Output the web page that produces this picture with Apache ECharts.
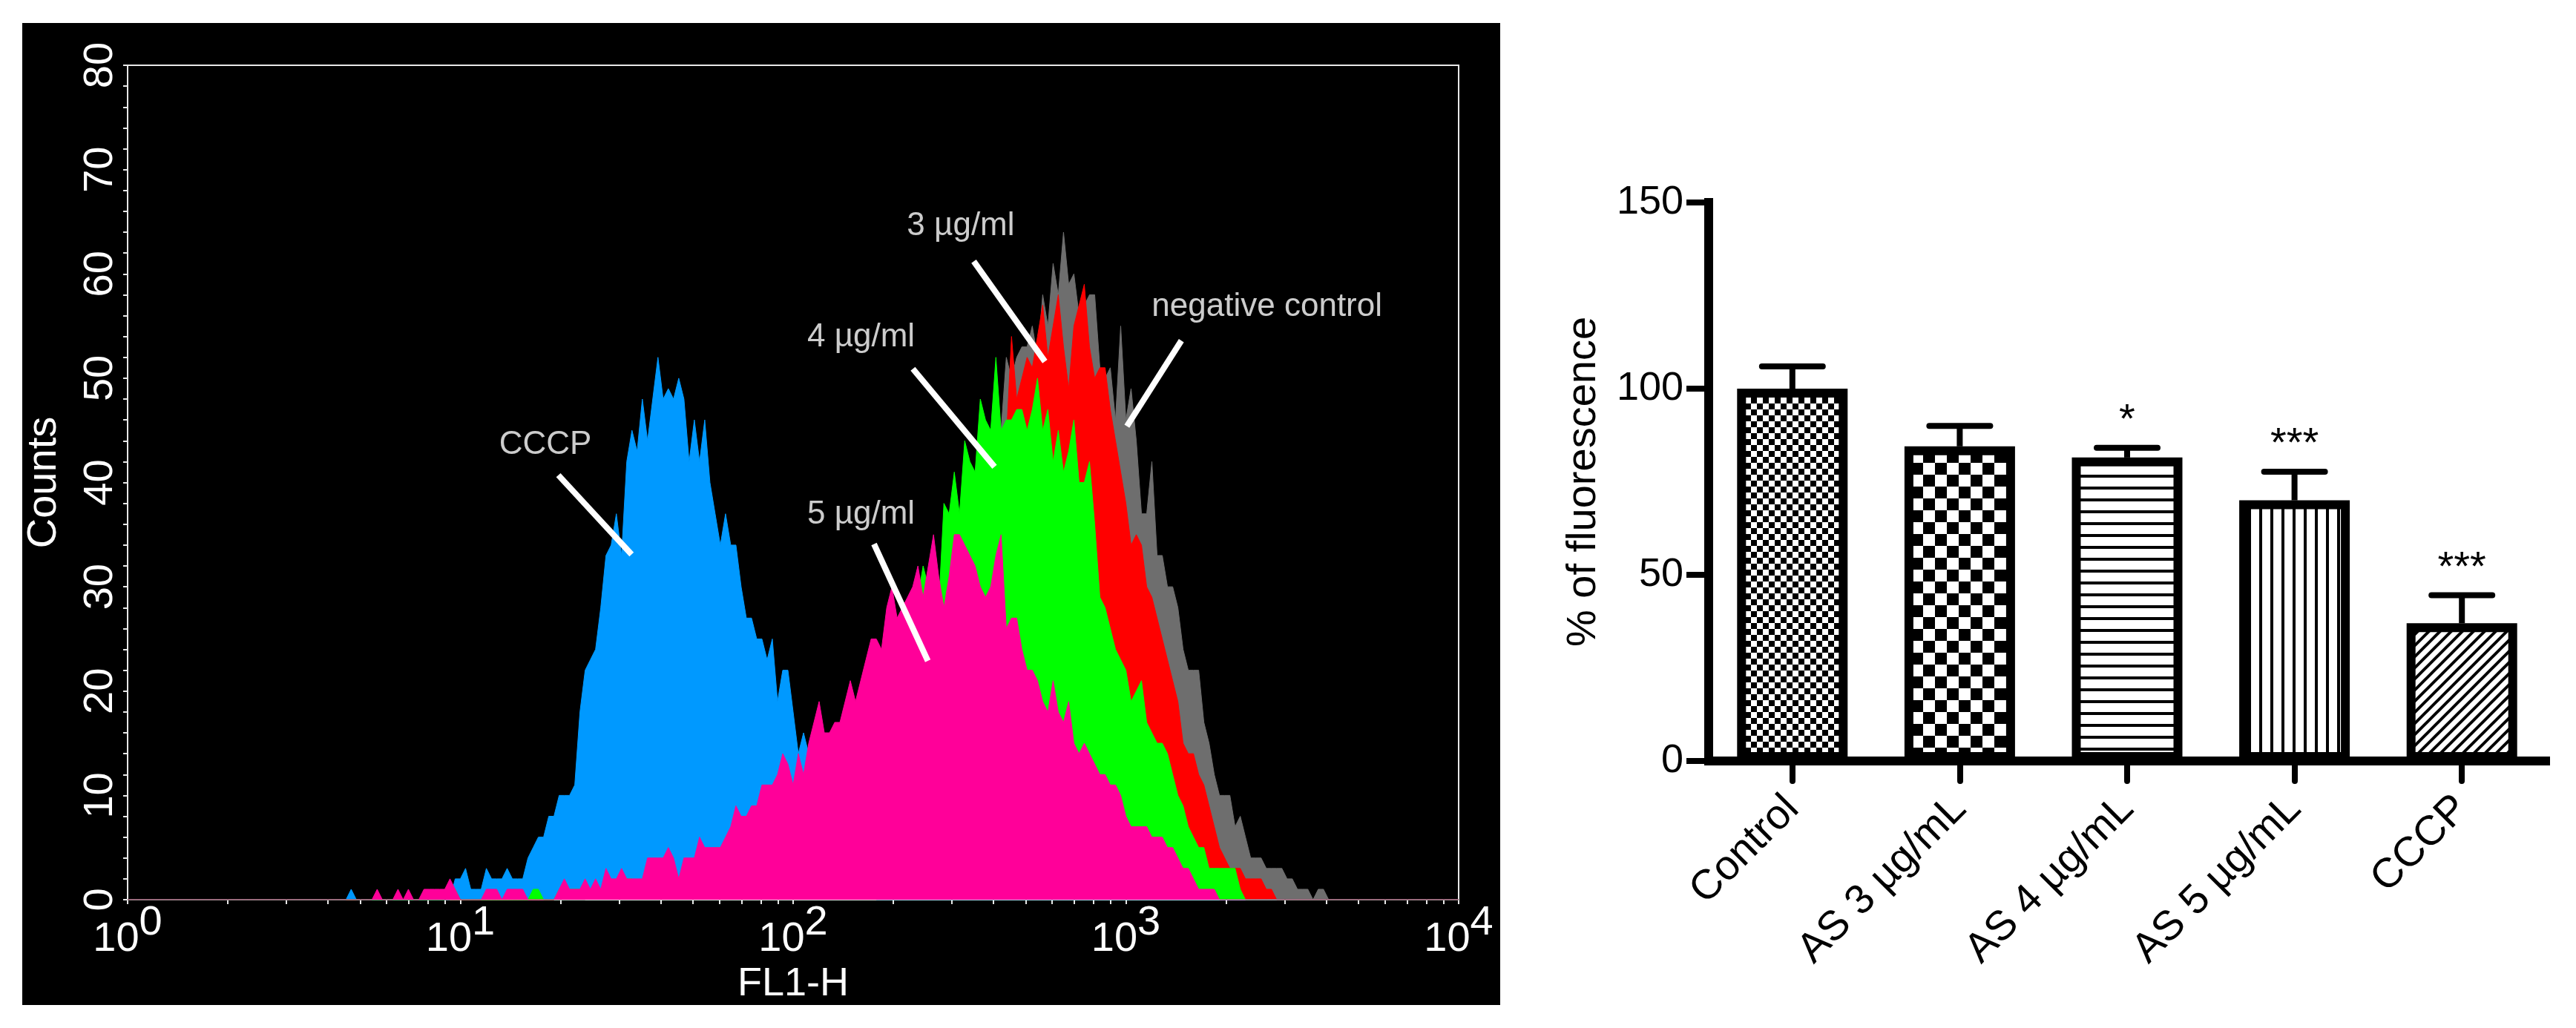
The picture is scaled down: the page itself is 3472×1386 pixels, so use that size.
<!DOCTYPE html>
<html>
<head>
<meta charset="utf-8">
<script src="https://cdn.jsdelivr.net/npm/echarts@6/dist/echarts.min.js"></script>
<style>
  html, body { margin: 0; padding: 0; background: #fff; }
  #chart { width: 3472px; height: 1386px; }
</style>
</head>
<body>
<div id="chart"></div>
<script>
// left panel: FL1-H histograms, 64 channels per decade from 10^0 to 10^4
const channelCount = 257
const channels = Array.from({ length: channelCount }, (_, i) => i)

// counts per channel; each list starts at the channel in its *From constant
const cccpFrom = 43
const cccpCounts = [
  1, 0, 0, 0, 0, 0, 0, 0, 0, 0,
  0, 0, 0, 0, 0, 0, 0, 0, 0, 0,
  2, 2, 3, 1, 1, 1, 3, 2, 2, 2,
  3, 2, 2, 2, 4, 5, 6, 6, 8, 8,
  10, 10, 10, 11, 18, 22, 23, 24, 28, 33,
  34, 37, 33, 42, 45, 43, 48, 44, 48, 52,
  48, 49, 48, 50, 48, 42, 46, 42, 46, 40,
  37, 34, 37, 34, 34, 30, 27, 27, 25, 25,
  23, 25, 19, 22, 22, 18, 14, 16, 14, 15,
  13, 12, 10, 8, 7, 5, 4, 3, 2, 1,
  1, 0
]

const as5From = 46
const as5Counts = [
  0, 0, 1, 0, 0, 0, 1, 0, 1, 0,
  0, 1, 1, 1, 1, 1, 2, 1, 0, 0,
  0, 0, 0, 1, 1, 1, 0, 1, 1, 1,
  1, 0, 0, 0, 0, 0, 0, 1, 2, 1,
  1, 1, 2, 1, 2, 1, 3, 2, 2, 3,
  2, 2, 2, 2, 4, 4, 4, 4, 5, 4,
  2, 4, 4, 4, 6, 5, 5, 5, 5, 6,
  7, 9, 8, 8, 9, 9, 11, 11, 11, 12,
  14, 13, 11, 14, 12, 15, 17, 19, 16, 16,
  17, 17, 19, 21, 19, 21, 23, 25, 25, 24,
  28, 30, 27, 28, 29, 30, 32, 29, 32, 35,
  31, 28, 31, 35, 35, 34, 33, 32, 30, 29,
  30, 33, 35, 26, 27, 27, 24, 22, 22, 21,
  19, 18, 21, 18, 17, 19, 15, 14, 15, 14,
  13, 12, 12, 11, 11, 10, 8, 7, 7, 7,
  7, 6, 6, 6, 5, 5, 4, 3, 3, 2,
  1, 1, 1, 1, 0
]

const as4From = 60
const as4Counts = [
  0, 0, 1, 1, 0, 0, 0, 0, 0, 0,
  0, 0, 0, 0, 0, 0, 0, 0, 1, 1,
  0, 0, 0, 1, 1, 1, 1, 1, 1, 1,
  1, 1, 2, 1, 2, 2, 2, 2, 1, 2,
  3, 3, 3, 3, 3, 3, 2, 3, 3, 4,
  4, 4, 4, 5, 5, 5, 6, 6, 7, 7,
  8, 8, 9, 9, 10, 10, 11, 11, 10, 12,
  11, 13, 14, 15, 15, 16, 16, 16, 18, 18,
  18, 20, 21, 22, 23, 23, 25, 26, 26, 27,
  28, 28, 29, 32, 30, 31, 28, 38, 37, 41,
  37, 44, 42, 41, 48, 46, 45, 52, 45, 46,
  46, 47, 47, 45, 47, 50, 45, 47, 42, 45,
  41, 43, 46, 40, 40, 42, 36, 29, 28, 26,
  24, 23, 22, 19, 20, 21, 17, 16, 15, 15,
  14, 12, 10, 9, 7, 6, 5, 5, 3, 3,
  3, 3, 3, 3, 1, 0
]

const as3From = 80
const as3Counts = [
  0, 0, 0, 1, 0, 1, 0, 1, 1, 1,
  1, 1, 1, 1, 1, 2, 1, 2, 2, 2,
  2, 2, 3, 2, 3, 3, 2, 3, 3, 4,
  3, 4, 4, 4, 5, 5, 5, 5, 6, 6,
  7, 7, 7, 8, 8, 9, 9, 10, 10, 11,
  11, 12, 13, 13, 14, 15, 15, 16, 17, 17,
  18, 19, 20, 21, 21, 22, 23, 24, 25, 26,
  26, 27, 28, 29, 30, 30, 29, 32, 33, 34,
  35, 36, 37, 38, 39, 40, 41, 42, 43, 44,
  54, 48, 50, 52, 51, 54, 57, 52, 55, 58,
  53, 49, 55, 57, 59, 53, 50, 51, 51, 47,
  44, 41, 38, 34, 35, 34, 30, 29, 27, 25,
  23, 21, 19, 15, 14, 14, 12, 11, 9, 7,
  5, 4, 3, 3, 3, 2, 2, 2, 2, 1,
  1, 0
]

const negFrom = 88
const negCounts = [
  0, 1, 0, 1, 1, 1, 1, 1, 1, 1,
  2, 1, 2, 2, 2, 2, 2, 3, 2, 3,
  3, 3, 3, 3, 4, 4, 4, 4, 5, 5,
  5, 6, 6, 6, 7, 7, 8, 8, 8, 9,
  9, 10, 10, 11, 11, 12, 12, 13, 14, 14,
  15, 16, 16, 17, 18, 19, 19, 20, 21, 22,
  23, 23, 24, 25, 26, 27, 28, 28, 29, 30,
  31, 32, 33, 34, 35, 36, 37, 38, 40, 41,
  45, 52, 50, 52, 53, 53, 55, 52, 58, 55,
  61, 58, 64, 59, 60, 56, 57, 58, 58, 51,
  50, 51, 46, 55, 46, 49, 44, 37, 37, 42,
  33, 33, 30, 30, 28, 24, 22, 22, 22, 17,
  15, 12, 10, 10, 10, 7, 8, 6, 4, 4,
  4, 3, 3, 3, 3, 2, 2, 1, 1, 1,
  0, 1, 1, 0
]

// annotations on the histogram (FL1-H value, counts)
const noteTexts = ['CCCP', '3 µg/ml', '4 µg/ml', '5 µg/ml', 'negative control']
const noteFl = [18, 319, 160, 160, 2655]
const noteCounts = [43.6, 64.6, 53.9, 36.9, 56.8]
const pointerStart = [[19.7, 40.7], [349, 61.2], [229, 50.9], [175, 34.1], [1468, 53.6]]
const pointerEnd = [[32.7, 33.1], [571, 51.6], [403, 41.5], [254, 22.9], [1007, 45.4]]

// right panel: bar chart
const groups = ['Control', 'AS 3 µg/mL', 'AS 4 µg/mL', 'AS 5 µg/mL', 'CCCP']
const fluorMean = [100, 84.5, 81.5, 70, 37]
const fluorSD = [6, 5.5, 2.6, 7.7, 7.5]
const signif = ['', '', '*', '***', '***']

const font = 'Liberation Sans, Arial, sans-serif'
const frameColor = '#e8e8e8'

function fullTrace(from, counts) {
  const out = new Array(channelCount).fill(0)
  counts.forEach((c, i) => { out[from + i] = c })
  return out
}

// minor tick places on the decade scale (log10 of 1..9 per decade)
const decadeTicks = []
for (let d = 0; d < 4; d++) {
  for (let k = 1; k <= 9; k++) decadeTicks.push(d + Math.log10(k))
}
decadeTicks.push(4)

function pattern(size, draw) {
  const c = document.createElement('canvas')
  c.width = c.height = size
  const ctx = c.getContext('2d')
  ctx.fillStyle = '#fff'
  ctx.fillRect(0, 0, size, size)
  ctx.fillStyle = '#000'
  ctx.strokeStyle = '#000'
  draw(ctx, size)
  return { image: c, repeat: 'repeat' }
}

const barFills = [
  pattern(16, (ctx) => { ctx.fillRect(0, 0, 8, 8); ctx.fillRect(8, 8, 8, 8) }),
  pattern(32, (ctx) => { ctx.fillRect(0, 0, 16, 16); ctx.fillRect(16, 16, 16, 16) }),
  pattern(16, (ctx) => { ctx.fillRect(0, 0, 16, 4) }),
  pattern(15, (ctx) => { ctx.fillRect(0, 0, 4, 15) }),
  pattern(15, (ctx, s) => {
    ctx.lineWidth = 4
    ctx.beginPath()
    ctx.moveTo(-2, 2); ctx.lineTo(2, -2)
    ctx.moveTo(0, s); ctx.lineTo(s, 0)
    ctx.moveTo(s - 2, s + 2); ctx.lineTo(s + 2, s - 2)
    ctx.stroke()
  })
]

// each trace gets its own z so its outline never lands on top of a later fill
function histSeries(name, from, counts, color, z) {
  return {
    name,
    type: 'line',
    xAxisIndex: 0,
    yAxisIndex: 0,
    z,
    data: fullTrace(from, counts),
    symbol: 'none',
    lineStyle: { color, width: 1 },
    areaStyle: { color, opacity: 1 },
    silent: true
  }
}

const chart = echarts.init(document.getElementById('chart'))

chart.setOption({
  backgroundColor: '#fff',
  animation: false,
  textStyle: { fontFamily: font },
  graphic: [{
    type: 'rect', z: -10,
    shape: { x: 30, y: 31, width: 1992, height: 1324 },
    style: { fill: '#000' }
  }],
  grid: [
    { left: 172, top: 88, width: 1794, height: 1125, show: true, borderColor: frameColor, borderWidth: 2, backgroundColor: 'transparent' },
    { left: 2303, top: 273, width: 1128, height: 753 }
  ],
  xAxis: [
    { type: 'category', gridIndex: 0, position: 'bottom', data: channels, boundaryGap: false, show: false },
    {
      type: 'log', gridIndex: 0, position: 'bottom', logBase: 10, min: 1, max: 10000, splitNumber: 4,
      name: 'FL1-H', nameLocation: 'middle', nameGap: 80,
      nameTextStyle: { color: '#fff', fontSize: 54, fontFamily: font },
      axisLine: { lineStyle: { color: frameColor, width: 2 } },
      axisTick: { length: 6, lineStyle: { color: frameColor, width: 2 } },
      splitLine: { show: false },
      axisLabel: {
        margin: 4,
        formatter: (v) => '{b|10}{e|' + Math.round(Math.log10(v)) + '}',
        rich: {
          b: { color: '#fff', fontSize: 56, fontFamily: font, padding: [22, 0, 0, 0] },
          e: { color: '#fff', fontSize: 56, fontFamily: font, padding: [0, 0, 22, 0] }
        }
      }
    },
    {
      type: 'value', gridIndex: 0, position: 'bottom', min: 0, max: 4,
      axisLine: { show: false }, axisLabel: { show: false }, splitLine: { show: false },
      axisTick: { show: true, customValues: decadeTicks, length: 6, lineStyle: { color: frameColor, width: 2 } }
    },
    {
      type: 'category', gridIndex: 1, position: 'bottom', data: groups,
      axisLine: { lineStyle: { color: '#000', width: 12, cap: 'square' } },
      axisTick: { show: true, alignWithLabel: true, length: 27, lineStyle: { color: '#000', width: 8, cap: 'round' } },
      axisLabel: { rotate: 45, color: '#000', fontSize: 56, margin: 56, fontFamily: font },
      splitLine: { show: false }
    }
  ],
  yAxis: [
    {
      type: 'value', gridIndex: 0, min: 0, max: 80, interval: 10,
      name: 'Counts', nameLocation: 'middle', nameGap: 84,
      nameTextStyle: { color: '#fff', fontSize: 56, fontFamily: font },
      axisLine: { show: true, lineStyle: { color: frameColor, width: 2 } },
      axisTick: { show: true, length: 6, lineStyle: { color: frameColor, width: 2 } },
      minorTick: { show: true, splitNumber: 5, length: 6, lineStyle: { color: frameColor, width: 2 } },
      axisLabel: { rotate: 90, color: '#fff', fontSize: 56, margin: 8, fontFamily: font },
      splitLine: { show: false }
    },
    {
      type: 'value', gridIndex: 1, min: 0, max: 150, interval: 50,
      name: '% of fluorescence', nameLocation: 'middle', nameGap: 140,
      nameTextStyle: { color: '#000', fontSize: 56, fontFamily: font },
      axisLine: { show: true, lineStyle: { color: '#000', width: 12, cap: 'square' } },
      axisTick: { show: true, length: 30, lineStyle: { color: '#000', width: 8 } },
      axisLabel: { color: '#000', fontSize: 54, margin: 34, fontFamily: font },
      splitLine: { show: false }
    }
  ],
  series: [
    histSeries('negative control', negFrom, negCounts, '#6e6e6e', 2),
    histSeries('3 µg/ml', as3From, as3Counts, '#ff0000', 3),
    histSeries('CCCP', cccpFrom, cccpCounts, '#0099ff', 4),
    histSeries('4 µg/ml', as4From, as4Counts, '#00ff00', 5),
    histSeries('5 µg/ml', as5From, as5Counts, '#ff0099', 6),
    {
      type: 'scatter', xAxisIndex: 1, yAxisIndex: 0, z: 10, silent: true,
      symbolSize: 1, itemStyle: { color: 'transparent' },
      data: noteTexts.map((t, i) => ({ name: t, value: [noteFl[i], noteCounts[i]] })),
      label: { show: true, position: 'inside', formatter: '{b}', color: '#fff', fontSize: 44, fontFamily: font },
      markLine: {
        z: 20, silent: true, symbol: ['none', 'none'], label: { show: false },
        lineStyle: { color: '#fff', width: 8, type: 'solid' },
        data: pointerStart.map((p, i) => [{ coord: p }, { coord: pointerEnd[i] }])
      }
    },
    {
      type: 'bar', xAxisIndex: 3, yAxisIndex: 1, barWidth: 149,
      data: fluorMean.map((v, i) => ({ value: v, itemStyle: { color: barFills[i] } })),
      itemStyle: { borderColor: '#000', borderWidth: 12 }
    },
    {
      type: 'custom', xAxisIndex: 3, yAxisIndex: 1, z: 5,
      data: groups.map((g, i) => [i, fluorMean[i], fluorSD[i]]),
      encode: { x: 0, y: 1 },
      renderItem(params, api) {
        const i = api.value(0)
        const base = api.coord([i, api.value(1)])
        const top = api.coord([i, api.value(1) + api.value(2)])
        const half = 41
        const children = [
          { type: 'line', shape: { x1: base[0], y1: base[1], x2: top[0], y2: top[1] }, style: { stroke: '#000', lineWidth: 8 } },
          { type: 'line', shape: { x1: top[0] - half, y1: top[1], x2: top[0] + half, y2: top[1] }, style: { stroke: '#000', lineWidth: 8, lineCap: 'round' } }
        ]
        const mark = signif[params.dataIndex]
        if (mark) {
          children.push({
            type: 'text', x: top[0], y: top[1] - 36,
            style: { text: mark, fill: '#000', font: '56px ' + font, align: 'center', verticalAlign: 'middle' }
          })
        }
        return { type: 'group', children }
      }
    }
  ]
})
</script>
</body>
</html>
